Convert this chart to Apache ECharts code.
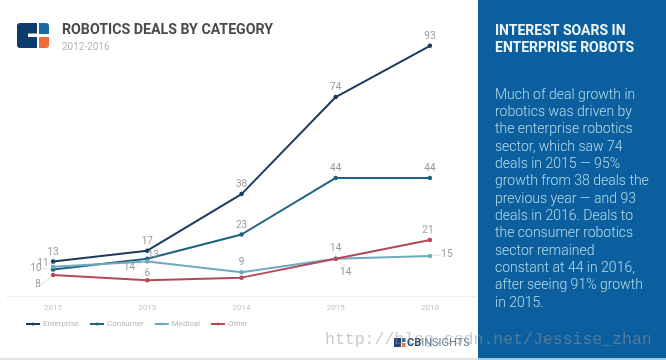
<!DOCTYPE html>
<html>
<head>
<meta charset="utf-8">
<style>
html, body { margin: 0; padding: 0; background: #fff; }
#chart { width: 666px; height: 360px; }
</style>
<script src="https://cdn.jsdelivr.net/npm/echarts@6/dist/echarts.min.js"></script>
</head>
<body>
<div id="chart"></div>
<script>
const years = ['2012', '2013', '2014', '2015', '2016'];
const enterprise = [13, 17, 38, 74, 93];
const consumer = [10, 14, 23, 44, 44];
const medical = [11, 13, 9, 14, 15];
const other = [8, 6, 7, 14, 21];

const panelTitle = ['INTEREST SOARS IN', 'ENTERPRISE ROBOTS'];
const panelBody = [
    'Much of deal growth in',
    'robotics was driven by',
    'the enterprise robotics',
    'sector, which saw 74',
    'deals in 2015 — 95%',
    'growth from 38 deals the',
    'previous year — and 93',
    'deals in 2016. Deals to',
    'the consumer robotics',
    'sector remained',
    'constant at 44 in 2016,',
    'after seeing 91% growth',
    'in 2015.'
];

const FONT = 'Roboto, sans-serif';

// 标签偏移 [dx, dy]，null 表示该点不显示标签
const enterpriseLabels = [[0, 0], [0, 0], [0, 0], [0, 0], [0, 0]];
const consumerLabels = [[-17, 8], [-18, 18], [0, 0], [0, 0], [0, 0]];
const medicalLabels = [[-10, 6], [6, 3], [0, 0], [10, 23], [17, 8]];
const otherLabels = [[-15, 19], [0, 2], null, [0, -1], [-2, 0]];

function makeSeries(name, values, color, offsets) {
    return {
        name,
        type: 'line',
        data: values.map((v, i) => ({
            value: v,
            label: { show: offsets[i] !== null }
        })),
        symbol: 'circle',
        symbolSize: 4.5,
        lineStyle: { color, width: 2 },
        itemStyle: { color },
        label: {
            show: true,
            position: 'top',
            distance: 2,
            fontFamily: FONT,
            fontSize: 10,
            color: '#9a9a9a'
        },
        labelLine: { show: true, lineStyle: { color: '#d8d8d8', width: 0.8 } },
        labelLayout: (params) => {
            const o = offsets[params.dataIndex];
            return o ? { dx: o[0], dy: o[1] } : {};
        }
    };
}

const graphic = [
    // 右侧蓝色面板
    { type: 'rect', z: 0, shape: { x: 478, y: 0, width: 188, height: 358 }, style: { fill: '#0b5f9e' } },
    { type: 'rect', z: 0, shape: { x: 0, y: 358, width: 478, height: 2 }, style: { fill: '#e2e2e2' } },
    { type: 'rect', z: 0, shape: { x: 478, y: 358, width: 188, height: 2 }, style: { fill: '#9fcbe8' } },
    // 左上角 logo
    { type: 'rect', shape: { x: 17, y: 23, width: 20, height: 25, r: [3, 0, 0, 3] }, style: { fill: '#0d3b70' } },
    { type: 'rect', shape: { x: 28, y: 33.5, width: 9, height: 3.5 }, style: { fill: '#ffffff' } },
    { type: 'rect', shape: { x: 39, y: 23, width: 10, height: 11, r: [0, 3, 0, 0] }, style: { fill: '#1a6aa5' } },
    { type: 'rect', shape: { x: 39, y: 37, width: 10, height: 11, r: [0, 0, 3, 0] }, style: { fill: '#ee6c35' } },
    { type: 'text', style: { x: 62, y: 30.5, text: 'ROBOTICS DEALS BY CATEGORY', fontFamily: FONT, fontSize: 14.2, fontWeight: 'bold', fill: '#4a4a4a', verticalAlign: 'middle' } },
    { type: 'text', style: { x: 62, y: 47.5, text: '2012-2016', fontFamily: FONT, fontSize: 10, fill: '#b5b5b5', verticalAlign: 'middle' } },
    // 面板文字
    { type: 'text', style: { x: 495, y: 31, text: panelTitle[0], fontFamily: FONT, fontSize: 14, fontWeight: 'bold', fill: '#eef5f8', verticalAlign: 'middle' } },
    { type: 'text', style: { x: 495, y: 48.5, text: panelTitle[1], fontFamily: FONT, fontSize: 14, fontWeight: 'bold', fill: '#eef5f8', verticalAlign: 'middle' } }
];

panelBody.forEach((line, i) => {
    graphic.push({
        type: 'text',
        style: { x: 495, y: 95 + i * 17.34, text: line, fontFamily: FONT, fontSize: 14, fontWeight: 300, fill: '#b4dbe8', verticalAlign: 'middle' }
    });
});

graphic.push(
    // 右下角 CB Insights
    { type: 'rect', shape: { x: 394, y: 338, width: 7, height: 9 }, style: { fill: '#1d4674' } },
    { type: 'rect', shape: { x: 402, y: 338, width: 3.5, height: 4 }, style: { fill: '#2a6ea5' } },
    { type: 'rect', shape: { x: 402, y: 343, width: 3.5, height: 4 }, style: { fill: '#e8733c' } },
    {
        type: 'text',
        style: {
            x: 407, y: 343, text: '{a|CB}{b|INSIGHTS}', verticalAlign: 'middle',
            rich: {
                a: { fontFamily: FONT, fontSize: 11, fontWeight: 'bold', fill: '#27486b' },
                b: { fontFamily: FONT, fontSize: 11, fill: '#5f7f96' }
            }
        }
    },
    // 水印
    { type: 'text', z: 20, style: { x: 325, y: 340, text: 'http://blog.csdn.net/Jessise_zhan', fontFamily: '"Liberation Mono", monospace', fontSize: 16.5, fill: 'rgba(150,150,150,0.5)', verticalAlign: 'middle' } }
);

const chart = echarts.init(document.getElementById('chart'));
chart.setOption({
    backgroundColor: '#ffffff',
    animation: false,
    grid: { left: 6, width: 471, top: 27, height: 269.5 },
    legend: {
        left: 20,
        top: 315,
        itemWidth: 14,
        itemHeight: 4,
        itemGap: 10,
        textStyle: { fontFamily: FONT, fontSize: 8, color: '#b5b5b5', padding: [0, 0, 0, -2] },
        data: ['Enterprise', 'Consumer', 'Medical', 'Other']
    },
    xAxis: {
        type: 'category',
        data: years,
        axisLine: { lineStyle: { color: '#efefef' } },
        axisTick: { show: false },
        axisLabel: { fontFamily: FONT, fontSize: 8, color: '#c4c4c4', margin: 7 }
    },
    yAxis: { type: 'value', min: 0, max: 100, show: false },
    series: [
        makeSeries('Enterprise', enterprise, '#1d3b5c', enterpriseLabels),
        makeSeries('Consumer', consumer, '#1f6283', consumerLabels),
        makeSeries('Medical', medical, '#6fa9bd', medicalLabels),
        makeSeries('Other', other, '#b5485a', otherLabels)
    ],
    graphic
});
</script>
</body>
</html>
